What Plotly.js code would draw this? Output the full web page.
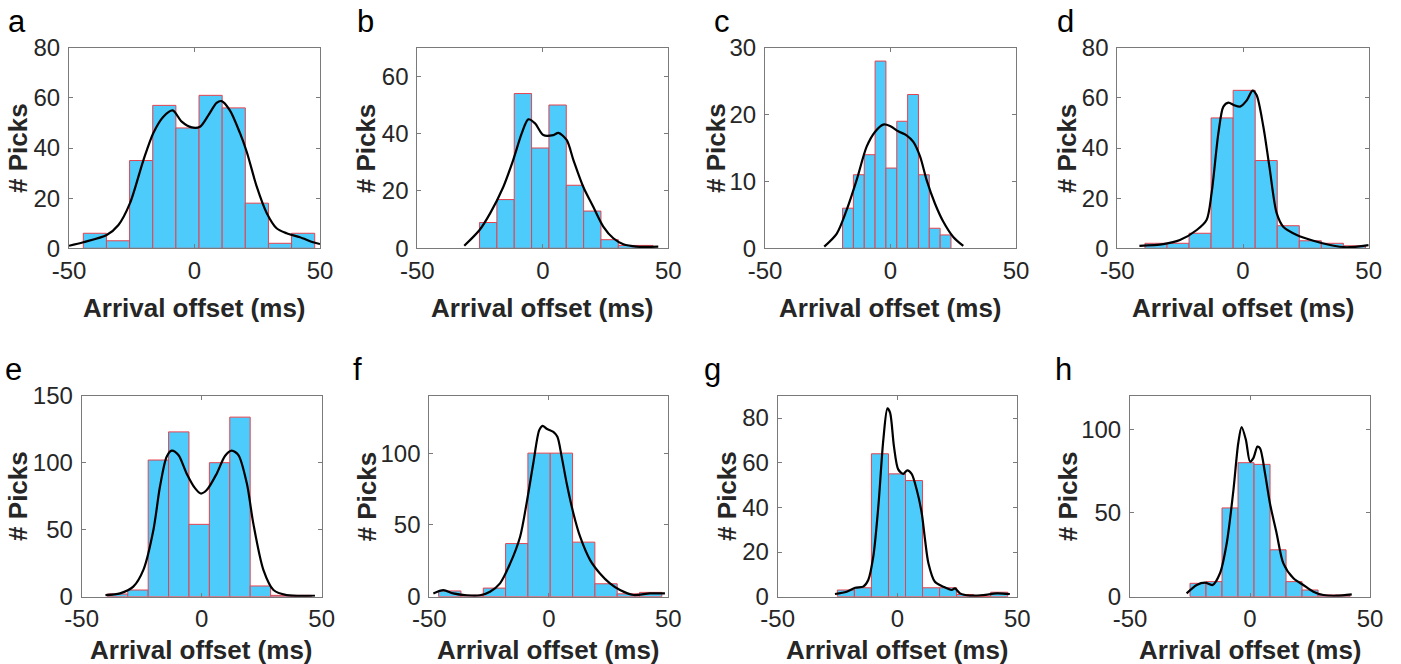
<!DOCTYPE html>
<html>
<head>
<meta charset="utf-8">
<script src="https://cdn.plot.ly/plotly-3.0.1.min.js"></script>
<style>html,body{margin:0;padding:0;background:#fff;}#chart{width:1401px;height:664px;}</style>
</head>
<body>
<div id="chart"></div>
<script>
// ---------- data ----------
const panelLabels = ['a','b','c','d','e','f','g','h'];
const xTitle = 'Arrival offset (ms)';
const yTitle = '# Picks';
const xTicks = [-50, 0, 50];
const xTickText = ['-50', '0', '50'];

// histogram counts per panel
const countsA = [6, 3, 35, 57, 48, 61, 56, 18, 2, 6];
const countsB = [9, 17, 54, 35, 50, 22, 13, 3, 1, 1];
const countsC = [6, 11, 14, 28, 12, 19, 23, 11, 3, 2];
const countsD = [2, 2, 6, 52, 63, 35, 9, 3, 2, 1];
const countsE = [2, 5, 102, 123, 54, 100, 134, 8, 1, 1];
const countsF = [4, 1, 6, 37, 100, 100, 38, 9, 2, 3];
const countsG = [3, 4, 64, 55, 52, 4, 4, 1, 0, 2];
const countsH = [8, 9, 53, 80, 79, 28, 9, 4, 1, 1];

// first bin edge and bin width (ms) per panel
const binStart = [-44.3, -25.2, -19.1, -39.0, -39.3, -46.1, -25.1, -25.0];
const binWidth = [9.22, 6.91, 4.32, 8.77, 8.5, 9.34, 7.11, 6.67];

// density curves (scaled to counts)
const curveAx = [-50, -44.3, -35, -30.3, -25.7, -20.4, -16.4, -12.4, -8.7, -5.1, -1.1, 2.2, 5.5, 8.8, 10.8, 14.1, 18.1, 20.8, 24.8, 28.8, 32.7, 36.7, 42, 47.3, 50];
const curveAy = [1, 2.4, 5.3, 9.3, 18, 35, 46, 52.5, 55, 50.5, 48.2, 48.5, 53, 58, 58.7, 55, 46, 38.5, 24.6, 14, 8, 6, 4.4, 2.4, 1.7];
const curveBx = [-31.3, -25.2, -21.0, -15.7, -11.8, -8.4, -5.8, -3.1, 0.2, 4.2, 6.2, 9.5, 12.2, 16.1, 20.1, 24.1, 28.1, 32.1, 37.4, 46];
const curveBy = [0.9, 6.4, 12.2, 21.5, 30.8, 40.1, 45, 43.6, 39.5, 39.5, 40.3, 37.8, 30.8, 21.5, 14.5, 7.6, 3.5, 1.4, 0.6, 0.6];
const curveCx = [-26.4, -21.4, -17.5, -13.5, -9.5, -6.2, -2.9, -0.2, 3.1, 6.4, 9.1, 11.8, 14.4, 17.7, 21.0, 25, 29];
const curveCy = [0.25, 2.2, 5.7, 10.2, 15.2, 17.4, 18.5, 18.3, 17.5, 16.9, 15.9, 13.7, 10.2, 6.7, 4.0, 1.7, 0.35];
const curveDx = [-41.2, -31.7, -25.1, -18.4, -14.5, -12.5, -9.8, -7.8, -5.8, -3.6, -1.2, 1.5, 3.8, 5.4, 8.1, 10.5, 13.4, 16.0, 21.4, 28, 34.6, 41.2, 50];
const curveDy = [1, 1.7, 3.3, 7.3, 11.3, 22, 45.8, 56.5, 58.1, 57.1, 56.5, 59, 62.9, 61.1, 48.5, 32.6, 14, 8.6, 5.3, 3, 1.3, 0.4, 1.3];
const curveEx = [-40.1, -34, -28.5, -24.3, -20.1, -17.4, -14.6, -12.5, -9.7, -6.3, -2.8, -0.4, 2.1, 6.3, 9.7, 12.5, 15.3, 18.8, 21.5, 25.7, 29.9, 35.4, 47.2];
const curveEy = [1.2, 2.5, 7.5, 20, 50, 82, 104.5, 109, 105.7, 92, 81, 77, 79.6, 92, 105, 109, 105.7, 84.6, 54.7, 20, 5, 1.2, 0.7];
const curveFx = [-48.3, -44.1, -40, -34.4, -28.8, -24.6, -20.4, -16.2, -12.0, -9.3, -6.5, -4, -2.6, -0.9, 1.9, 3.6, 5.4, 7.5, 10.3, 13.1, 17.3, 21.4, 25.6, 29.8, 35.4, 42.3, 48.6];
const curveFy = [2.3, 4.6, 2.3, 1, 1, 3.5, 9.3, 23, 41.8, 65, 92.8, 116, 119, 117, 114.8, 111.4, 97.4, 78.9, 58, 41.8, 25.5, 16.2, 9.3, 4.6, 1.2, 2.3, 2.3];
const curveGx = [-26.1, -21.2, -17.7, -14.3, -12.2, -10.1, -8, -5.9, -4.2, -3.1, -1.5, 0.3, 2.4, 4.1, 5.9, 8.0, 10.1, 11.5, 12.9, 15.6, 19.1, 22.6, 24, 26.1, 30.3, 35.8, 41.4, 46.9];
const curveGy = [1.2, 2.2, 4, 4.5, 7.5, 18, 40.4, 70.4, 84.3, 82.4, 67.4, 57, 55, 56.6, 55, 48, 37.5, 25.5, 15, 6.7, 4.5, 3, 3.7, 1.5, 0.5, 0.7, 1.5, 1.2];
const curveHx = [-26.4, -22.2, -18.75, -15.6, -12.5, -9.7, -6.9, -4.9, -3.5, -1.7, 0, 1.4, 3.1, 4.2, 6.25, 8.3, 11.1, 13.9, 18.1, 22.2, 26.4, 30.6, 36.1, 42.4];
const curveHy = [2, 7, 8.4, 7, 14, 31.9, 63.7, 91.6, 101.2, 93.6, 80.7, 82.7, 89.6, 88.6, 73.7, 55.8, 37.8, 19.9, 11, 7, 3, 1, 0.6, 1.4];

// y-axis ranges and tick steps
const yMax = [80, 70, 30, 80, 150, 140, 90, 120];
const yStep = [20, 20, 10, 20, 50, 50, 20, 50];

// ---------- figure ----------
const W = 1401, H = 664;
const counts = [countsA, countsB, countsC, countsD, countsE, countsF, countsG, countsH];
const curvesX = [curveAx, curveBx, curveCx, curveDx, curveEx, curveFx, curveGx, curveHx];
const curvesY = [curveAy, curveBy, curveCy, curveDy, curveEy, curveFy, curveGy, curveHy];

// plot boxes in pixels: [left, right, top, bottom]
const boxes = [
  [69, 320, 47.7, 248.3], [417.3, 668.3, 47.7, 248.3], [765, 1016, 47.7, 248.3], [1117.3, 1368.7, 47.7, 248.3],
  [81.7, 321.7, 395.7, 596.7], [429.3, 668.3, 395.7, 596.7], [777.7, 1017.3, 395.7, 596.7], [1130, 1370, 395.7, 596.7]
];
const yTitleOffset = [51, 51, 49, 50, 63, 62, 51, 62];
const letterPos = [[17, 22], [365, 22], [722, 22], [1065, 22], [13, 369], [357, 369], [712, 369], [1063, 369]];
const xTitleY = [308, 308, 308, 308, 650, 650, 650, 650];
const xStandoff = [1, 1, 1, 1, 0, 0, 0, 0];

const FONT = 'Liberation Sans, Arial, Helvetica, sans-serif';
const TXT = '#262626';
const AXC = '#7a7a7a';

const traces = [];
const layout = {
  width: W, height: H,
  margin: {l: 0, r: 0, t: 0, b: 0},
  paper_bgcolor: '#ffffff', plot_bgcolor: '#ffffff',
  showlegend: false,
  font: {family: FONT, color: TXT},
  annotations: []
};

for (let i = 0; i < 8; i++) {
  const n = i + 1;
  const xa = n === 1 ? 'x' : 'x' + n;
  const ya = n === 1 ? 'y' : 'y' + n;
  const [L, R, T, B] = boxes[i];
  const centers = counts[i].map((_, k) => binStart[i] + binWidth[i] * (k + 0.5));
  traces.push({
    type: 'bar', x: centers, y: counts[i], width: binWidth[i],
    xaxis: xa, yaxis: ya,
    marker: {color: '#4dcbfb', line: {color: '#e5434f', width: 1}},
    hoverinfo: 'x+y'
  });
  traces.push({
    type: 'scatter', mode: 'lines', x: curvesX[i], y: curvesY[i],
    xaxis: xa, yaxis: ya,
    line: {color: '#000000', width: 2.2, shape: 'spline', smoothing: 0.8}
  });
  const axCommon = {
    showgrid: false, zeroline: false, showline: true, linecolor: AXC, linewidth: 1,
    mirror: 'allticks', ticks: 'inside', ticklen: 4, tickcolor: AXC, tickwidth: 1,
    tickfont: {family: FONT, size: 24, color: TXT}, fixedrange: true
  };
  layout['xaxis' + (n === 1 ? '' : n)] = Object.assign({}, axCommon, {
    domain: [L / W, R / W], anchor: ya, range: [-50, 50], tickmode: 'array', tickvals: xTicks, ticktext: xTickText,
    ticklabelstandoff: xStandoff[i]
  });
  layout['yaxis' + (n === 1 ? '' : n)] = Object.assign({}, axCommon, {
    domain: [1 - B / H, 1 - T / H], anchor: xa, range: [0, yMax[i]], tickmode: 'linear', tick0: 0, dtick: yStep[i],
    ticklabelstandoff: 3
  });
  // x title
  layout.annotations.push({
    text: xTitle, xref: 'paper', yref: 'paper', x: ((L + R) / 2) / W, y: 1 - xTitleY[i] / H,
    xanchor: 'center', yanchor: 'middle', showarrow: false,
    font: {family: FONT, size: 26, color: TXT, weight: 'bold'}
  });
  // y title
  layout.annotations.push({
    text: yTitle, xref: 'paper', yref: 'paper', x: (L - yTitleOffset[i]) / W, y: 1 - ((T + B) / 2) / H,
    xanchor: 'center', yanchor: 'middle', showarrow: false, textangle: -90,
    font: {family: FONT, size: 26, color: TXT, weight: 'bold'}
  });
  // panel letter
  layout.annotations.push({
    text: panelLabels[i], xref: 'paper', yref: 'paper', x: letterPos[i][0] / W, y: 1 - letterPos[i][1] / H,
    xanchor: 'center', yanchor: 'middle', showarrow: false,
    font: {family: FONT, size: 31, color: '#000000'}
  });
}

Plotly.newPlot('chart', traces, layout, {displayModeBar: false, staticPlot: true});
</script>
</body>
</html>
